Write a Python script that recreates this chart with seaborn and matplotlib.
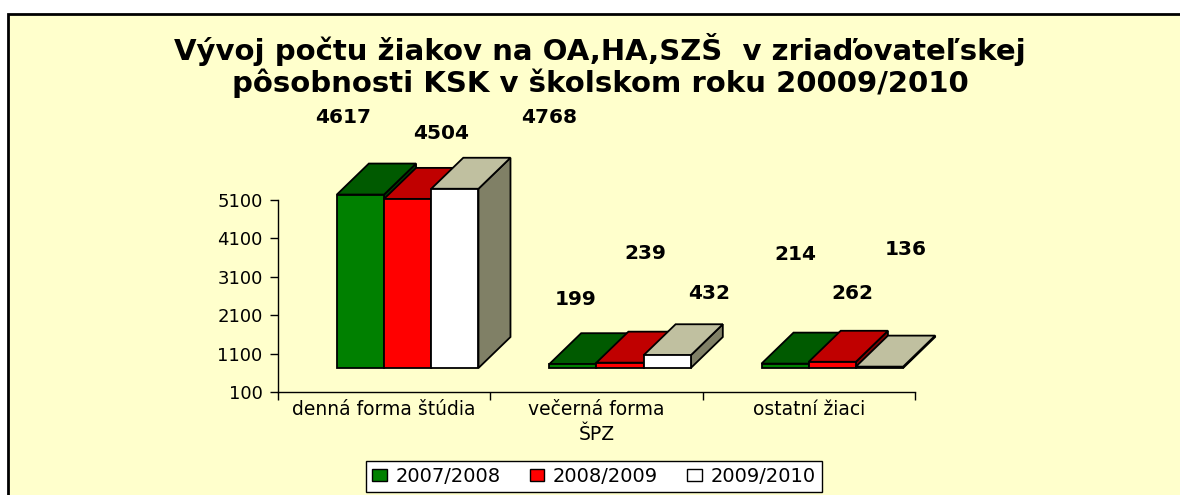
import numpy as np
import pandas as pd
import matplotlib
matplotlib.use("Agg")
import matplotlib.pyplot as plt
import seaborn as sns
from matplotlib.patches import Polygon, Rectangle, Patch

# ------------------------------------------------------------
# Data
# ------------------------------------------------------------
categories = ["denná forma štúdia", "večerná forma\nŠPZ", "ostatní žiaci"]
years = ["2007/2008", "2008/2009", "2009/2010"]
counts_2007_2008 = [4617, 199, 214]
counts_2008_2009 = [4504, 239, 262]
counts_2009_2010 = [4768, 432, 136]
y_ticks = [100, 1100, 2100, 3100, 4100, 5100]

# Excel puts the 3D data labels in odd places; (x, y) in axis data units
label_pos = [
    [(-0.194, 7261), (0.903, 2496), (1.935, 3668)],
    [(0.268, 6819), (1.228, 3694), (2.203, 2678)],
    [(0.776, 7261), (1.530, 2678), (2.458, 3798)],
]

# ------------------------------------------------------------
# Style
# ------------------------------------------------------------
front_colors = ["#008000", "#FF0000", "#FFFFFF"]
top_colors = ["#005A00", "#C00000", "#C0C0A0"]
side_colors = ["#004000", "#800000", "#808066"]
legend_colors = ["#008000", "#FF0000", "#FFFFFF"]
bg_color = "#FFFFCC"

FLOOR_PX = (23.5, 24)   # shift of the bar front plane (right, up)
DEPTH_PX = (32, 31)     # depth of the 3D boxes (right, up)

sns.set_style("ticks")
plt.rcParams["font.family"] = ["DejaVu Sans"]
for key in ["text.color", "axes.labelcolor", "xtick.color", "ytick.color"]:
    plt.rcParams[key] = "black"

series = [counts_2007_2008, counts_2008_2009, counts_2009_2010]
df = pd.DataFrame(
    {
        "kategoria": [c for _ in years for c in categories],
        "rok": [y for y in years for _ in categories],
        "pocet": [v for s in series for v in s],
    }
)

fig = plt.figure(figsize=(11.8, 4.95), dpi=100)
fig.patch.set_facecolor("white")
fig.add_artist(
    Rectangle(
        (8 / 1180, -0.2), 1.5, 1.2 - 14 / 495,
        transform=fig.transFigure, facecolor=bg_color,
        edgecolor="black", linewidth=2, zorder=-10,
    )
)

ax = fig.add_axes([278 / 1180, 103 / 495, 637 / 1180, 192 / 495])
ax.set_facecolor("none")

sns.barplot(
    data=df, x="kategoria", y="pocet", hue="rok",
    order=categories, hue_order=years, palette=front_colors,
    saturation=1, width=0.667, edgecolor="black", linewidth=1.3,
    legend=False, ax=ax,
)

y_min = y_ticks[0]
ax.set_xlim(-0.5, 2.5)
ax.set_ylim(y_min, y_ticks[-1])

# pixel -> data unit conversion
p0 = ax.transData.transform((0, 0))
p1 = ax.transData.transform((1, 1))
ux = 1 / (p1[0] - p0[0])
uy = 1 / (p1[1] - p0[1])
floor_dx, floor_dy = FLOOR_PX[0] * ux, FLOOR_PX[1] * uy
depth_dx, depth_dy = DEPTH_PX[0] * ux, DEPTH_PX[1] * uy

for h, container in enumerate(ax.containers):
    for p in container:
        value = p.get_height()
        x0 = p.get_x() + floor_dx
        w = p.get_width()
        base = y_min + floor_dy
        top = value + floor_dy
        p.set_x(x0)
        p.set_y(base)
        p.set_height(value - y_min)
        p.set_clip_on(False)
        p.set_zorder(3.5 + h)
        side = Polygon(
            [(x0 + w, base), (x0 + w + depth_dx, base + depth_dy),
             (x0 + w + depth_dx, top + depth_dy), (x0 + w, top)],
            closed=True, facecolor=side_colors[h], edgecolor="black",
            linewidth=1.3, clip_on=False, zorder=3 + h,
        )
        roof = Polygon(
            [(x0, top), (x0 + w, top), (x0 + w + depth_dx, top + depth_dy),
             (x0 + depth_dx, top + depth_dy)],
            closed=True, facecolor=top_colors[h], edgecolor="black",
            linewidth=1.3, clip_on=False, zorder=3 + h,
        )
        ax.add_patch(side)
        ax.add_patch(roof)

# data labels
for h, values in enumerate(series):
    for (lx, ly), v in zip(label_pos[h], values):
        ax.text(lx, ly, f"{v}", ha="center", va="center",
                fontsize=14.5, fontweight="bold", color="black")

# axes styling
sns.despine(ax=ax)
for s in ["left", "bottom"]:
    ax.spines[s].set_color("black")
    ax.spines[s].set_linewidth(1)
ax.set_yticks(y_ticks)
ax.set_yticklabels([str(t) for t in y_ticks])
ax.tick_params(axis="y", length=6, width=1, color="black", labelsize=13, pad=5)
ax.tick_params(axis="x", which="major", length=0, labelsize=13.5, pad=6)
for lbl in ax.get_xticklabels():
    lbl.set_linespacing(1.35)
ax.set_xticks([-0.5, 0.5, 1.5, 2.5], minor=True)
ax.tick_params(axis="x", which="minor", length=6, width=1, color="black")
ax.set_xlabel("")
ax.set_ylabel("")

# title
fig.text(600 / 1180, 1 - 50 / 495,
         "Vývoj počtu žiakov na OA,HA,SZŠ  v zriaďovateľskej",
         ha="center", va="center", fontsize=21, fontweight="bold")
fig.text(600 / 1180, 1 - 83 / 495,
         "pôsobnosti KSK v školskom roku 20009/2010",
         ha="center", va="center", fontsize=21, fontweight="bold")

# legend
handles = [Patch(facecolor=c, edgecolor="black", linewidth=1) for c in legend_colors]
leg = fig.legend(
    handles, years, loc="upper center", bbox_to_anchor=(594 / 1180, 1 - 461 / 495),
    ncol=3, frameon=True, fancybox=False, edgecolor="black", facecolor="white",
    framealpha=1, fontsize=14, handlelength=0.75, handleheight=0.55,
    handletextpad=0.45, columnspacing=1.5, borderpad=0.3, borderaxespad=0,
)
leg.get_frame().set_linewidth(1)

fig.savefig("out.png", dpi=100)
